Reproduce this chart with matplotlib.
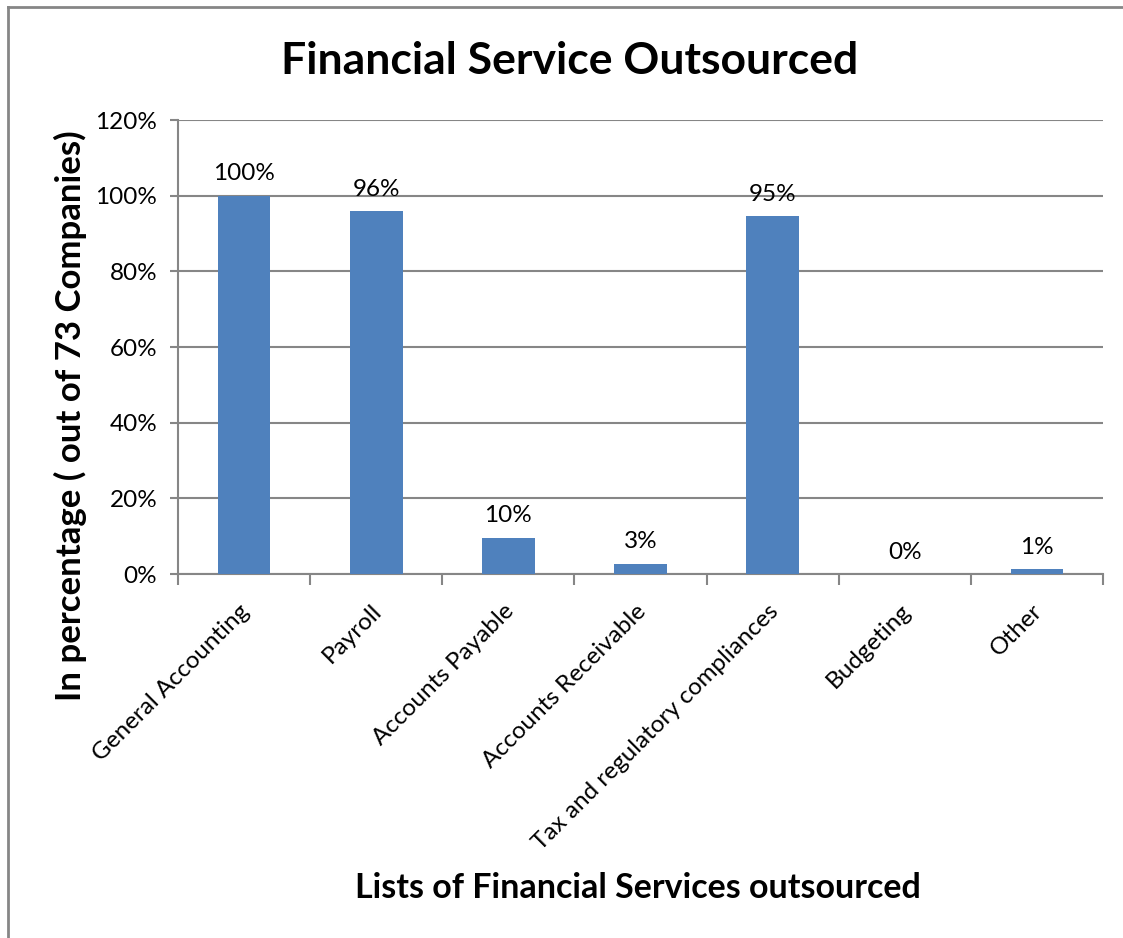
import numpy as np
import matplotlib.pyplot as plt
from matplotlib.ticker import FuncFormatter

# survey of 73 companies: how many outsource each financial service
services = ['General Accounting', 'Payroll', 'Accounts Payable', 'Accounts Receivable',
            'Tax and regulatory compliances', 'Budgeting', 'Other']
companies = [73, 70, 7, 2, 69, 0, 1]
total = 73
pct = np.array(companies) / total * 100
yticks = [0, 20, 40, 60, 80, 100, 120]

plt.rcParams['font.family'] = ['Lato', 'DejaVu Sans']

fig = plt.figure(figsize=(11.23, 9.38), dpi=100)
ax = fig.add_axes([0.1585, 0.388, 0.8237, 0.484])

x = np.arange(len(services))
ax.bar(x, pct, width=0.4, color='#4f81bd', zorder=3)
for xi, p in zip(x, pct):
    ax.text(xi, p + 3.0, '{0:.0f}%'.format(p), ha='center', va='bottom', fontsize=17.5)

ax.set_xlim(-0.5, len(services) - 0.5)
ax.set_ylim(0, 120)
ax.set_yticks(yticks)
ax.yaxis.set_major_formatter(FuncFormatter(lambda v, pos: '{0:.0f}%'.format(v)))
ax.tick_params(axis='y', labelsize=17.5, length=6, width=1.5, color='#868686', pad=9)
ax.grid(axis='y', color='#868686', linewidth=1.5, zorder=0)

# ticks sit between categories, labels at the centres
ax.set_xticks(np.arange(-0.5, len(services)), minor=False)
ax.set_xticklabels([])
ax.tick_params(axis='x', length=8, width=1.5, color='#868686')
for xi, name in zip(x, services):
    ax.annotate(name, xy=(xi, 0), xycoords=('data', 'axes fraction'),
                xytext=(7, -19), textcoords='offset points',
                rotation=45, ha='right', va='top', fontsize=17.5)

for side in ['top', 'right']:
    ax.spines[side].set_visible(False)
for side in ['left', 'bottom']:
    ax.spines[side].set_color('#868686')
    ax.spines[side].set_linewidth(1.5)

fig.text(0.507, 0.935, 'Financial Service Outsourced', ha='center', va='center',
         fontsize=32, fontweight='bold')
fig.text(0.568, 0.053, 'Lists of Financial Services outsourced', ha='center', va='center',
         fontsize=24.5, fontweight='bold')
fig.text(0.063, 0.557, 'In percentage ( out of 73 Companies)', ha='center', va='center',
         rotation=90, fontsize=25, fontweight='bold')

# chart border
fig.add_artist(plt.Line2D([0.0075, 0.0075], [0, 0.9925], color='#868686', linewidth=2))
fig.add_artist(plt.Line2D([0.0075, 1], [0.9925, 0.9925], color='#868686', linewidth=2))

plt.savefig('out.png', dpi=100)
